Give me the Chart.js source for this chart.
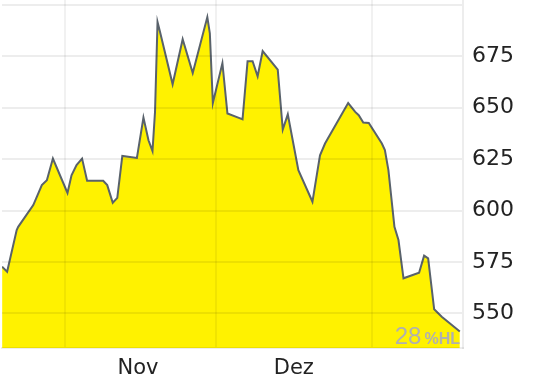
<!DOCTYPE html>
<html>
<head>
<meta charset="utf-8">
<script src="https://cdn.jsdelivr.net/npm/chart.js@4"></script>
<style>
html,body{margin:0;padding:0;background:#fff;}
#wrap{width:558px;height:382px;}
</style>
</head>
<body>
<div id="wrap"><canvas id="c" width="558" height="382"></canvas></div>
<script>
// Day index: Oct 1 = 0, Nov 1 = 31, Dec 1 = 61, Jan 1 = 92
const days = [18.5,19.5,21.4,21.7,24.7,25.4,26.4,27.4,28.6,31.5,32.3,33.3,34.4,35.4,38.6,39.4,40.5,41.4,42.4,45.3,46.6,47.6,48.4,48.9,49.4,49.9,52.4,54.4,56.4,59.3,59.8,60.4,62.3,63.3,65.7,66.3,67.3,68.3,69.3,70.3,73.3,74.3,75.3,77.4,80.2,81.7,82.7,87.3,88.7,89.4,90.3,91.4,94.0,94.6,95.3,96.5,97.3,98.3,101.4,102.4,103.2,104.4,105.9,109.5];
const prices = [572.7,570.3,590.5,592.1,602.7,606.7,612.4,614.8,625.3,608.6,617.2,622.1,625.3,614.5,614.5,612.4,603.8,606.2,626.6,625.6,645.2,634.2,629.0,648.0,691.7,686.8,661.4,683.3,666.9,694.1,686.2,652.3,671.7,647.2,645.0,644.4,672.6,672.6,665.3,677.6,668.5,639.4,646.8,619.7,604.3,626.9,632.6,652.3,648.0,646.4,642.8,642.6,632.6,629.4,619.7,592.1,585.7,567.1,569.8,578.1,576.8,552.0,548.4,541.2];
const monthBoundaries = [31, 61, 92];
const monthLabelPos = [45.5, 76.5];
const monthLabels = ['Nov', 'Dez'];
const yTicks = [550, 575, 600, 625, 650, 675, 700];
const hiddenYLabels = [700];
const badgeNumber = '28';
const badgeUnit = '%HL';

const points = days.map((d, i) => ({x: d, y: prices[i]}));
const gridCol = 'rgba(0,0,0,0.07)';
const vGridCol = 'rgba(0,0,0,0.055)';

const badgePlugin = {
  id: 'badge',
  afterDraw(chart) {
    const ctx = chart.ctx;
    const a = chart.chartArea;
    ctx.save();
    ctx.fillStyle = '#b0b0b0';
    ctx.textBaseline = 'alphabetic';
    ctx.textAlign = 'right';
    ctx.font = 'bold 16px "Liberation Sans"';
    const unitW = ctx.measureText(badgeUnit).width;
    const xr = a.right - 3;
    const yb = a.bottom - 4;
    ctx.fillText(badgeUnit, xr, yb);
    ctx.font = '24px "Liberation Sans"';
    ctx.fillText(badgeNumber, xr - unitW - 3, yb);
    ctx.restore();
  }
};

new Chart(document.getElementById('c'), {
  type: 'line',
  data: {
    datasets: [{
      data: points,
      borderColor: '#59626b',
      borderWidth: 2,
      backgroundColor: '#fff200',
      fill: 'start',
      tension: 0,
      pointRadius: 0
    }]
  },
  options: {
    responsive: false,
    animation: false,
    events: [],
    layout: {padding: {left: 2, top: 0, right: 0, bottom: 0}},
    plugins: {legend: {display: false}, tooltip: {enabled: false}},
    scales: {
      x: {
        type: 'linear',
        min: 18.48,
        max: 110.13,
        afterBuildTicks(scale) {
          scale.ticks = monthBoundaries.concat(monthLabelPos).sort((a,b)=>a-b).map(v => ({value: v}));
        },
        afterFit(scale) { scale.height = 34; scale.paddingLeft = 0; scale.paddingRight = 0; },
        grid: {
          z: 1,
          color: ctx => (ctx.tick && monthBoundaries.includes(ctx.tick.value)) ? vGridCol : 'rgba(0,0,0,0)',
          lineWidth: 2,
          drawTicks: false
        },
        border: {display: true, color: gridCol, width: 2, z: 1},
        ticks: {
          autoSkip: false,
          maxRotation: 0,
          padding: 8,
          color: '#222',
          font: {family: 'DejaVu Sans', size: 21},
          callback: v => { const i = monthLabelPos.indexOf(v); return i >= 0 ? monthLabels[i] : ''; }
        }
      },
      y: {
        type: 'linear',
        position: 'right',
        min: 533.2,
        max: 702.4,
        afterBuildTicks(scale) { scale.ticks = yTicks.map(v => ({value: v})); },
        afterFit(scale) { scale.width = 95; scale.paddingTop = 0; scale.paddingBottom = 0; },
        grid: {z: 1, color: gridCol, lineWidth: 2, drawTicks: false},
        border: {display: true, color: gridCol, width: 2, z: 1},
        ticks: {
          padding: 9,
          color: '#222',
          font: {family: 'DejaVu Sans', size: 22},
          callback: v => hiddenYLabels.includes(v) ? '' : String(v)
        }
      }
    }
  },
  plugins: [badgePlugin]
});
</script>
</body>
</html>
